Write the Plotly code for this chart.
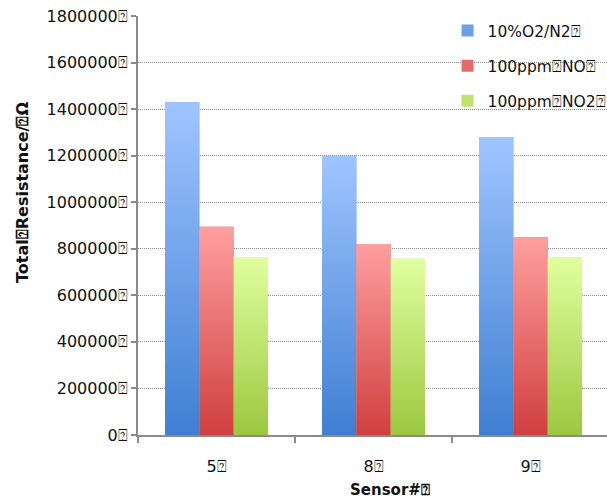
import plotly.graph_objects as go

# Sensor categories and measured total resistance (ohm) per gas environment
sensors = ["5⍰", "8⍰", "9⍰"]
series_names = ["10%O2/N2⍰", "100ppm⍰NO⍰", "100ppm⍰NO2⍰"]
o2_n2 = [1430000, 1200000, 1280000]
no_100 = [895000, 820000, 850000]
no2_100 = [765000, 757000, 762000]
y_ticks = [0, 200000, 400000, 600000, 800000, 1000000, 1200000, 1400000, 1600000, 1800000]
y_ticktext = [f"{v}⍰" for v in y_ticks]

values = [o2_n2, no_100, no2_100]
flat_colors = ["#6d9fe6", "#e56a6a", "#bde26d"]
grad_colors = [("#3f7fd2", "#9fc5ff"), ("#d03f3f", "#ff9f9f"), ("#9cc83f", "#e0ff9f")]

bargap = 0.344
n_series = len(values)
bar_w = (1 - bargap) / n_series

font_family = "DejaVu Sans"
fig = go.Figure()

xs = list(range(len(sensors)))
for s, (name, vals) in enumerate(zip(series_names, values)):
    fig.add_trace(go.Bar(
        x=xs, y=vals, name=name, legendgroup=name,
        marker=dict(color=flat_colors[s], line=dict(width=0)),
    ))

# vertical shading laid over each bar, spanning from zero up to its value
for s, vals in enumerate(values):
    for i, v in enumerate(vals):
        left = i - (1 - bargap) / 2 + s * bar_w
        right = left + bar_w
        fig.add_trace(go.Scatter(
            x=[left, right, right, left, left],
            y=[0, 0, v, v, 0],
            mode="lines", line=dict(width=0),
            fill="toself",
            fillgradient=dict(type="vertical",
                              colorscale=[[0, grad_colors[s][0]], [1, grad_colors[s][1]]],
                              start=0, stop=v),
            showlegend=False, hoverinfo="skip",
        ))

fig.update_layout(
    width=607, height=500,
    margin=dict(l=138, r=0, t=16, b=65, autoexpand=False),
    paper_bgcolor="white", plot_bgcolor="white",
    barmode="group", bargap=bargap, bargroupgap=0,
    font=dict(family=font_family, size=16, color="#111"),
    showlegend=True,
    legend=dict(x=0.66, y=1.005, xanchor="left", yanchor="top",
                bgcolor="rgba(0,0,0,0)", font=dict(size=15.5, family=font_family),
                tracegroupgap=12, itemwidth=30),
    xaxis=dict(
        range=[-0.5, 2.487], tickvals=xs, ticktext=sensors,
        showline=True, linecolor="#8a8a8a", linewidth=2,
        ticks="", ticklabelstandoff=16, showgrid=False, zeroline=False,
        minor=dict(tickvals=[-0.5, 0.5, 1.5, 2.5], ticks="outside", ticklen=6,
                   tickcolor="#8a8a8a", tickwidth=2, showgrid=False),
        tickfont=dict(size=16),
    ),
    yaxis=dict(
        range=[0, 1800000], tickvals=y_ticks, ticktext=y_ticktext,
        showline=True, linecolor="#8a8a8a", linewidth=2,
        ticks="outside", ticklen=5, tickcolor="#8a8a8a", tickwidth=2,
        showgrid=True, gridcolor="#8c8c8c", griddash="1px,1px", gridwidth=1,
        zeroline=False, tickfont=dict(size=16),
    ),
    annotations=[
        dict(text="<b>Total⍰Resistance/⍰Ω</b>", xref="paper", yref="paper",
             x=(22 - 138) / 469, y=(435 - 193) / 419, xanchor="center", yanchor="middle",
             textangle=-90, showarrow=False, font=dict(size=16, family=font_family)),
        dict(text="<b>Sensor#⍰</b>", xref="paper", yref="paper",
             x=(390 - 138) / 469, y=-(490 - 435) / 419, xanchor="center", yanchor="middle",
             showarrow=False, font=dict(size=15, family=font_family)),
    ],
)

fig.write_html("out.html")
